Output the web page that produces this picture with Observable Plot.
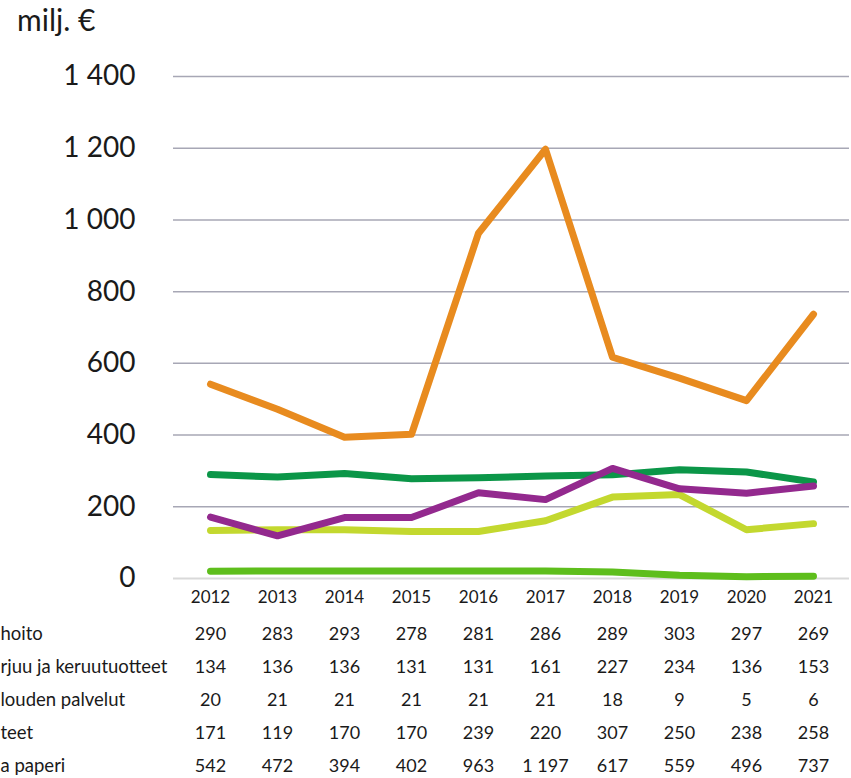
<!DOCTYPE html>
<html><head><meta charset="utf-8">
<script src="https://cdn.jsdelivr.net/npm/d3@7"></script>
<script src="https://cdn.jsdelivr.net/npm/@observablehq/plot@0.6"></script>
<style>
body{margin:0;background:#fff;font-family:Lato,"Open Sans",sans-serif;color:#1a1a1a}
#wrap{position:relative;width:851px;height:778px;overflow:hidden}
#title{position:absolute;left:17px;top:2px;font-size:30px;line-height:34px}
#chart svg{display:block}
</style></head>
<body><div id="wrap"><div id="title">milj. €</div><div id="chart"></div></div>
<script>
const years = [2012, 2013, 2014, 2015, 2016, 2017, 2018, 2019, 2020, 2021];
const seriesNames = ["hoito", "rjuu ja keruutuotteet", "louden palvelut", "teet", "a paperi"];
const metsanhoito = [290, 283, 293, 278, 281, 286, 289, 303, 297, 269];
const keruutuotteet = [134, 136, 136, 131, 131, 161, 227, 234, 136, 153];
const palvelut = [20, 21, 21, 21, 21, 21, 18, 9, 5, 6];
const puutuotteet = [171, 119, 170, 170, 239, 220, 307, 250, 238, 258];
const paperi = [542, 472, 394, 402, 963, 1197, 617, 559, 496, 737];
const seriesColors = ["#0b9648", "#c3d82f", "#5ebe1c", "#93298e", "#e88b1f"];
const yTicks = [0, 200, 400, 600, 800, 1000, 1200, 1400];

const allValues = [metsanhoito, keruutuotteet, palvelut, puutuotteet, paperi];
const rows = [];
seriesNames.forEach((s, i) => years.forEach((y, j) => rows.push({series: s, year: y, value: allValues[i][j]})));
const fmt = d => d3.format(",")(d).replace(/,/g, " ");

const W = 851;
const main = Plot.plot({
  width: W, height: 610,
  marginTop: 76, marginBottom: 32, marginLeft: 173, marginRight: 2,
  style: {fontFamily: "Lato, 'Open Sans', sans-serif", color: "#1a1a1a", background: "white"},
  x: {type: "point", domain: years, padding: 0.5, label: null},
  y: {domain: [0, 1400], label: null},
  color: {domain: seriesNames, range: seriesColors},
  marks: [
    Plot.ruleY(yTicks.filter(d => d > 0), {stroke: "#a7a7b5", strokeWidth: 1.5}),
    Plot.ruleY([0], {stroke: "#d9d9d9", strokeWidth: 2}),
    Plot.axisY({ticks: yTicks, tickSize: 0, tickPadding: 38, tickFormat: fmt, fontSize: 28, label: null}),
    Plot.axisX({tickSize: 0, tickPadding: 12, tickFormat: d => String(d), fontSize: 17, label: null}),
    Plot.line(rows, {x: "year", y: "value", z: "series", stroke: "series", strokeWidth: 7, strokeLinecap: "round", strokeLinejoin: "round"})
  ]
});

const table = Plot.plot({
  width: W, height: 168,
  marginTop: 0, marginBottom: 0, marginLeft: 173, marginRight: 2,
  style: {fontFamily: "Lato, 'Open Sans', sans-serif", color: "#1a1a1a", background: "white"},
  x: {type: "point", domain: years, padding: 0.5, axis: null},
  y: {type: "point", domain: seriesNames, range: [22, 157], padding: 0, axis: null},
  marks: [
    Plot.text(rows, {x: "year", y: "series", text: d => fmt(d.value), fontSize: 18, fill: "#1a1a1a"}),
    Plot.text(seriesNames, {y: d => d, text: d => d, frameAnchor: "left", dx: -173, textAnchor: "start", fontSize: 18.5, fill: "#1a1a1a"})
  ]
});

document.getElementById("chart").append(main, table);
</script>
</body></html>
